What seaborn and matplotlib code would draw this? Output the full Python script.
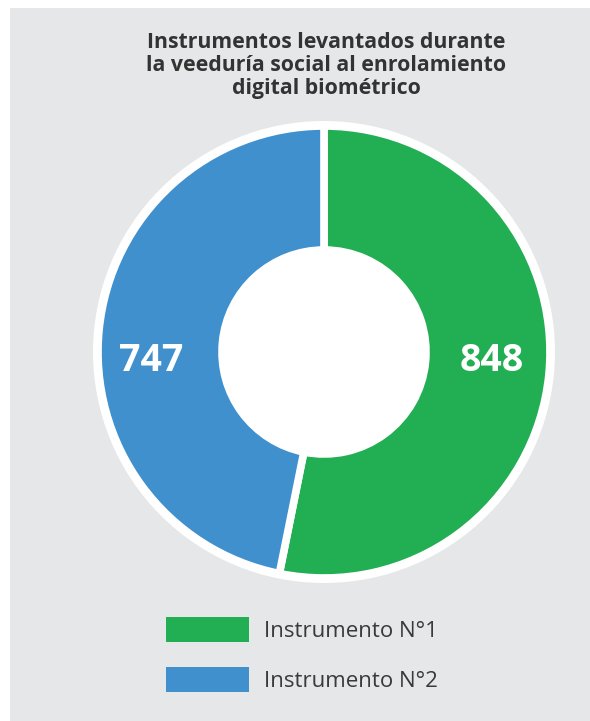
import matplotlib.pyplot as plt
import seaborn as sns
from matplotlib.patches import Rectangle, Circle

# Datos
categorias = ['Instrumento N°1', 'Instrumento N°2']
valores = [848, 747]
colores = ['#22ae53', '#3f90cd']

titulo = ('Instrumentos levantados durante\n'
          'la veeduría social al enrolamiento\n'
          'digital biométrico')

sns.set_theme(style='white')
plt.rcParams['font.family'] = ['Open Sans', 'DejaVu Sans']

fig = plt.figure(figsize=(5.9, 7.21), dpi=100)
fig.patch.set_facecolor('white')
ax = fig.add_axes([0, 0, 1, 1])

# Fondo gris
ax.add_patch(Rectangle((10, 0), 580, 713, facecolor='#e6e7e8', edgecolor='none', zorder=0))

# Anillo blanco exterior (y hueco central)
cx, cy = 324, 369
ax.add_patch(Circle((cx, cy), 231, facecolor='white', edgecolor='none', zorder=1))

wedges, _ = ax.pie(valores, colors=colores, startangle=90, counterclock=False,
                   radius=226, center=(cx, cy),
                   wedgeprops=dict(width=124, edgecolor='white', linewidth=5.5, zorder=2))

# Etiquetas de valores
ax.text(cx + 168, 360, str(valores[0]), color='white', fontsize=27, fontweight='bold',
        ha='center', va='center', zorder=4)
ax.text(cx - 173, 360, str(valores[1]), color='white', fontsize=27, fontweight='bold',
        ha='center', va='center', zorder=4)

# Título
ax.text(326, 689, titulo, ha='center', va='top', fontsize=15.3, fontweight='bold',
        color='#333333', linespacing=1.12, zorder=4)

# Leyenda
leg = ax.legend(wedges, categorias, loc='upper left', bbox_to_anchor=(166, 721 - 617),
                bbox_transform=ax.transData, frameon=False, fontsize=16,
                handlelength=3.74, handleheight=1.35, handletextpad=0.68,
                labelspacing=1.12, borderpad=0, borderaxespad=0)
for h in leg.legend_handles:
    h.set_linewidth(0)
for t in leg.get_texts():
    t.set_color('#3a3a3a')

ax.set_xlim(0, 590)
ax.set_ylim(0, 721)
ax.set_aspect('equal')
ax.axis('off')

plt.savefig('out.png', dpi=100, facecolor=fig.get_facecolor())
